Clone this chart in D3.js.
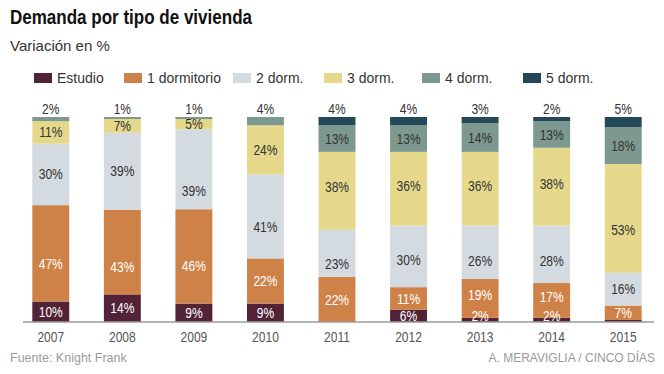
<!DOCTYPE html>
<html>
<head>
<meta charset="utf-8">
<script src="https://cdn.jsdelivr.net/npm/d3@7"></script>
<style>
  body { margin: 0; background: #fff; }
  svg { display: block; }
</style>
</head>
<body>
<svg></svg>
<script>
const width = 664;
const height = 374;

// data
const years = ['2007', '2008', '2009', '2010', '2011', '2012', '2013', '2014', '2015'];
const categories = ['Estudio', '1 dormitorio', '2 dorm.', '3 dorm.', '4 dorm.', '5 dorm.'];
const estudio  = [10, 14, 9, 9, 0, 6, 2, 2, 1];
const dorm1    = [47, 43, 46, 22, 22, 11, 19, 17, 7];
const dorm2    = [30, 39, 39, 41, 23, 30, 26, 28, 16];
const dorm3    = [11, 7, 5, 24, 38, 36, 36, 38, 53];
const dorm4    = [2, 1, 1, 4, 13, 13, 14, 13, 18];
const dorm5    = [0, 0, 0, 0, 4, 4, 3, 2, 5];
const hiddenLabels = ['2015|Estudio'];

const colors = ['#522336', '#cf8248', '#d3dae0', '#e5d88b', '#7d998f', '#24485a'];
const whiteText = ['Estudio', '1 dormitorio'];
// hand placed labels in the original (px shift from segment centre)
const labelShift = {
  '2007|1 dormitorio': 11, '2008|1 dormitorio': 15, '2009|1 dormitorio': 10,
  '2009|2 dorm.': 22, '2010|2 dorm.': 10, '2011|2 dorm.': 11,
  '2012|2 dorm.': 4, '2013|2 dorm.': 9, '2014|2 dorm.': 7,
  '2015|3 dorm.': 11, '2011|3 dorm.': -4, '2012|3 dorm.': -3, '2013|3 dorm.': -3, '2014|3 dorm.': -3,
  '2013|1 dormitorio': -4, '2014|1 dormitorio': -4
};
const legendX = [34, 124, 233, 324, 422, 523];
const squeeze = 0.83; // the original uses a condensed face

const series = [estudio, dorm1, dorm2, dorm3, dorm4, dorm5];
const table = years.map((y, i) => {
  const row = { year: y };
  categories.forEach((c, k) => row[c] = series[k][i]);
  return row;
});

const svg = d3.select('svg')
  .attr('width', width)
  .attr('height', height)
  .style('font-family', '"Liberation Sans", Arial, sans-serif');

// titles
svg.append('text')
  .attr('x', 10).attr('y', 24)
  .attr('textLength', 242)
  .attr('lengthAdjust', 'spacingAndGlyphs')
  .style('font-weight', 'bold')
  .style('font-size', '21px')
  .style('fill', '#111')
  .text('Demanda por tipo de vivienda');

svg.append('text')
  .attr('x', 10).attr('y', 51)
  .style('font-size', '15px')
  .style('fill', '#333')
  .text('Variación en %');

// legend
const legend = svg.append('g').selectAll('g')
  .data(categories)
  .join('g')
    .attr('transform', (d, i) => `translate(${legendX[i]},73)`);

legend.append('rect')
  .attr('width', 18).attr('height', 10)
  .style('fill', (d, i) => colors[i]);

legend.append('text')
  .attr('x', 23).attr('y', 5)
  .attr('dy', '0.35em')
  .style('font-size', '14px')
  .style('fill', '#333')
  .text(d => d);

// scales
const x = d3.scaleBand()
  .domain(years)
  .range([15, 659])
  .paddingInner(0.484)
  .paddingOuter(0.242);

const y = d3.scaleLinear()
  .domain([0, 1])
  .range([322, 117]);

const color = d3.scaleOrdinal().domain(categories).range(colors);

const stack = d3.stack()
  .keys(categories)
  .offset(d3.stackOffsetExpand);
const layers = stack(table);

const groups = svg.append('g').selectAll('g')
  .data(layers)
  .join('g')
    .style('fill', d => color(d.key));

groups.selectAll('rect')
  .data(d => d.map(s => ({ key: d.key, s: s })))
  .join('rect')
    .attr('x', d => x(d.s.data.year))
    .attr('width', x.bandwidth())
    .attr('y', d => y(d.s[1]))
    .attr('height', d => y(d.s[0]) - y(d.s[1]));

// axis
const axis = svg.append('g')
  .attr('transform', 'translate(0,322)')
  .call(d3.axisBottom(x).tickSize(0).tickPadding(10));
axis.select('.domain').remove();
axis.append('line')
  .attr('x1', 23).attr('x2', 654)
  .style('stroke', '#9a9a9a')
  .style('stroke-width', 1.5);
axis.selectAll('.tick text')
  .attr('transform', `scale(${squeeze},1)`)
  .style('font-family', '"Liberation Sans", Arial, sans-serif')
  .style('font-size', '14.5px')
  .style('fill', '#555');

// labels
const labels = [];
layers.forEach(layer => {
  layer.forEach(s => {
    const year = s.data.year;
    const v = s.data[layer.key];
    if (!v || hiddenLabels.includes(year + '|' + layer.key)) return;
    const top = categories.slice(categories.indexOf(layer.key) + 1).every(c => !s.data[c]);
    let cy;
    if (top) {
      cy = y(1) - 8;
    } else {
      cy = (y(s[0]) + y(s[1])) / 2 + (labelShift[year + '|' + layer.key] || 0);
      cy = Math.min(cy, 316);
    }
    labels.push({ year: year, key: layer.key, v: v, cy: cy, top: top });
  });
});

svg.append('g').selectAll('text')
  .data(labels)
  .join('text')
    .attr('transform', d => `translate(${x(d.year) + x.bandwidth() / 2},${d.cy}) scale(${squeeze},1)`)
    .attr('dy', '0.35em')
    .attr('text-anchor', 'middle')
    .style('font-size', '14.5px')
    .style('fill', d => (!d.top && whiteText.includes(d.key)) ? '#fff' : '#333')
    .text(d => d.v + '%');

// footer
svg.append('text')
  .attr('x', 10).attr('y', 362)
  .style('font-size', '12.5px')
  .style('fill', '#9a9a9a')
  .text('Fuente: Knight Frank');

svg.append('text')
  .attr('x', 655).attr('y', 362)
  .attr('text-anchor', 'end')
  .style('font-size', '12px')
  .style('fill', '#9a9a9a')
  .text('A. MERAVIGLIA / CINCO DÍAS');
</script>
</body>
</html>
